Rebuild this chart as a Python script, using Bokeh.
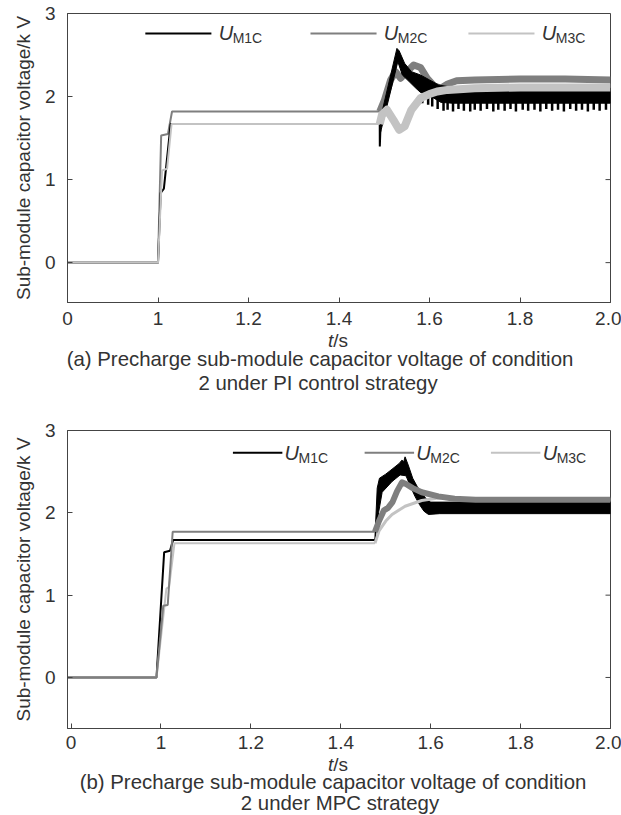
import math
from bokeh.plotting import figure
from bokeh.models import FixedTicker, Label, Range1d, Div
from bokeh.layouts import column
from bokeh.embed import file_html
from bokeh.resources import INLINE

# ---------------- data ----------------
x_ticks = [0.8, 1.0, 1.2, 1.4, 1.6, 1.8, 2.0]
x_tick_labels = ["0", "1", "1.2", "1.4", "1.6", "1.8", "2.0"]
y_ticks = [0, 1, 2, 3]
series = ["M1C", "M2C", "M3C"]

# (a) PI control
pi_m1c_t = [0.80, 1.000, 1.006, 1.013, 1.028, 1.490, 1.4902, 1.4915]
pi_m1c_u = [0.00, 0.00, 0.84, 0.89, 1.67, 1.67, 1.40, 1.60]
pi_m1c_hi_t = [1.491, 1.528, 1.533, 1.545, 1.560, 1.580, 1.600, 1.620, 1.650, 1.700, 1.750, 1.800, 1.850, 1.900, 1.950, 2.000]
pi_m1c_hi_u = [1.72, 2.58, 2.55, 2.40, 2.30, 2.26, 2.20, 2.14, 2.11, 2.10, 2.09, 2.10, 2.09, 2.10, 2.09, 2.10]
pi_m1c_lo_t = [1.491, 1.530, 1.540, 1.555, 1.570, 1.580, 1.595, 1.610, 1.625, 1.650, 2.000]
pi_m1c_lo_u = [1.55, 2.42, 2.26, 2.18, 2.10, 2.05, 2.02, 1.98, 1.93, 1.92, 1.92]
pi_m1c_spike_t = [1.584, 1.597, 1.606, 1.618, 1.631, 1.640, 1.652, 1.664, 1.676, 1.690, 1.700,
                  1.713, 1.727, 1.741, 1.752, 1.766, 1.779, 1.791, 1.806, 1.818, 1.832, 1.845,
                  1.858, 1.871, 1.884, 1.897, 1.911, 1.924, 1.937, 1.950, 1.963, 1.976, 1.990]
pi_m1c_spike_u = [1.92, 1.90, 1.88, 1.85, 1.83, 1.84, 1.82, 1.85, 1.83, 1.82, 1.84,
                  1.83, 1.85, 1.82, 1.84, 1.83, 1.85, 1.82, 1.84, 1.83, 1.84, 1.82,
                  1.85, 1.83, 1.84, 1.82, 1.85, 1.83, 1.84, 1.82, 1.84, 1.83, 1.84]
pi_m1c_spike_base = 2.00

pi_m2c_t = [0.80, 1.000, 1.007, 1.022, 1.031, 1.490]
pi_m2c_u = [0.00, 0.00, 1.53, 1.55, 1.82, 1.82]
pi_m2c_tr_t = [1.490, 1.500, 1.514, 1.525, 1.536, 1.550, 1.565, 1.580, 1.595, 1.610, 1.625, 1.640, 1.660, 1.700, 1.800, 1.900, 2.000]
pi_m2c_tr_u = [1.82, 1.95, 2.20, 2.30, 2.22, 2.30, 2.38, 2.35, 2.22, 2.13, 2.10, 2.15, 2.19, 2.20, 2.21, 2.21, 2.20]

pi_m3c_t = [0.80, 1.000, 1.009, 1.020, 1.030, 1.490]
pi_m3c_u = [0.00, 0.00, 1.11, 1.13, 1.67, 1.67]
pi_m3c_tr_t = [1.490, 1.495, 1.506, 1.520, 1.533, 1.545, 1.560, 1.580, 1.600, 1.617, 1.640, 1.700, 1.800, 1.900, 2.000]
pi_m3c_tr_u = [1.67, 1.78, 1.84, 1.72, 1.60, 1.64, 1.84, 1.98, 2.03, 2.06, 2.08, 2.10, 2.11, 2.11, 2.11]

# (b) MPC
mpc_m1c_t = [0.79, 0.990, 1.007, 1.020, 1.027, 1.476]
mpc_m1c_u = [0.00, 0.00, 1.52, 1.54, 1.67, 1.67]
mpc_m1c_hi_t = [1.476, 1.481, 1.486, 1.500, 1.514, 1.530, 1.536, 1.540, 1.543, 1.550, 1.560, 1.570, 1.580, 1.590, 1.600, 2.000]
mpc_m1c_hi_u = [1.70, 2.30, 2.42, 2.47, 2.53, 2.60, 2.64, 2.62, 2.68, 2.58, 2.42, 2.32, 2.24, 2.17, 2.13, 2.13]
mpc_m1c_lo_t = [1.476, 1.484, 1.492, 1.514, 1.532, 1.545, 1.555, 1.565, 1.575, 1.585, 1.595, 1.620, 2.000]
mpc_m1c_lo_u = [1.66, 2.00, 2.25, 2.38, 2.46, 2.45, 2.32, 2.20, 2.10, 2.02, 1.98, 1.99, 1.99]

mpc_m2c_t = [0.79, 0.990, 1.005, 1.015, 1.026, 1.476]
mpc_m2c_u = [0.00, 0.00, 0.87, 0.88, 1.77, 1.77]
mpc_m2c_tr_t = [1.476, 1.485, 1.496, 1.505, 1.515, 1.525, 1.536, 1.545, 1.560, 1.580, 1.617, 1.653, 1.700, 2.000]
mpc_m2c_tr_u = [1.77, 1.90, 2.03, 2.06, 2.13, 2.26, 2.37, 2.35, 2.30, 2.25, 2.20, 2.17, 2.16, 2.16]

mpc_m3c_t = [0.79, 0.990, 1.012, 1.018, 1.030, 1.476]
mpc_m3c_u = [0.00, 0.00, 1.08, 1.10, 1.63, 1.63]
mpc_m3c_tr_t = [1.476, 1.485, 1.500, 1.514, 1.543, 1.580, 1.617, 1.650, 2.000]
mpc_m3c_tr_u = [1.63, 1.78, 1.90, 1.98, 2.08, 2.15, 2.18, 2.17, 2.16]

captions_a = ["(a) Precharge sub-module capacitor voltage of condition", "2 under PI control strategy"]
captions_b = ["(b) Precharge sub-module capacitor voltage of condition", "2 under MPC strategy"]
y_label = "Sub-module capacitor voltage/k V"

# ---------------- style ----------------
COLORS = {"M1C": "#000000", "M2C": "#7f7f7f", "M3C": "#c3c3c3"}
FONT = "Liberation Sans"
TXT = "#333333"
AX = "#444444"


def make_panel(height, xr, yr, borders, legend_cfg, x_standoff):
    p = figure(width=621, height=height, x_range=Range1d(*xr), y_range=Range1d(*yr),
               output_backend="svg", toolbar_location=None,
               min_border_left=borders[0], min_border_right=borders[1],
               min_border_top=borders[2], min_border_bottom=borders[3])
    p.xgrid.visible = False
    p.ygrid.visible = False
    p.outline_line_color = AX
    p.outline_line_width = 1
    p.background_fill_color = "white"
    p.border_fill_color = "white"

    xa = p.xaxis[0]
    xa.ticker = FixedTicker(ticks=x_ticks)
    xa.major_label_overrides = dict(zip(x_ticks, x_tick_labels))
    ya = p.yaxis[0]
    ya.ticker = FixedTicker(ticks=y_ticks)
    ya.axis_label = y_label
    for a in (xa, ya):
        a.axis_line_color = AX
        a.major_tick_line_color = AX
        a.major_tick_in = 5
        a.major_tick_out = 0
        a.minor_tick_line_color = None
        a.major_label_text_font = FONT
        a.major_label_text_font_size = "19px"
        a.major_label_text_color = TXT
        a.axis_label_text_font = FONT
        a.axis_label_text_font_size = "19px"
        a.axis_label_text_font_style = "normal"
        a.axis_label_text_color = TXT
    xa.major_label_standoff = x_standoff
    ya.major_label_standoff = 12
    ya.axis_label_standoff = 8

    # inward ticks on the right frame edge
    p.ray(x=xr[1], y=y_ticks, length=5, length_units="screen", angle=math.pi,
          line_color=AX, line_width=1)

    # legend (custom, with italic U and subscript)
    ly, lx, llen, ugap = legend_cfg
    for name, x0 in zip(series, lx):
        p.line([x0, x0 + llen], [ly, ly], line_color=COLORS[name], line_width=2)
        p.add_layout(Label(x=x0 + llen + ugap, y=ly, text="U", text_font=FONT, text_font_size="20px",
                           text_font_style="italic", text_color=TXT, text_baseline="middle"))
        p.add_layout(Label(x=x0 + llen + ugap, y=ly, x_offset=14, y_offset=-5, text=name, text_font=FONT,
                           text_font_size="14px", text_color=TXT, text_baseline="middle"))
    return p


def caption_div(height, t_pos, c1_pos, c2_pos, caps):
    base = ("position:absolute;white-space:nowrap;text-align:center;"
            "font-family:'Liberation Sans',Arial,sans-serif;color:#333333;")
    html = (f'<div style="position:relative;width:621px;height:{height}px;">'
            f'<div style="{base}left:{t_pos[0] - 100}px;width:200px;top:{t_pos[1]}px;'
            f'font-size:19px;line-height:16px;"><i>t</i>/s</div>'
            f'<div style="{base}left:{c1_pos[0] - 300}px;width:600px;top:{c1_pos[1]}px;'
            f'font-size:20.4px;line-height:18px;">{caps[0]}</div>'
            f'<div style="{base}left:{c2_pos[0] - 300}px;width:600px;top:{c2_pos[1]}px;'
            f'font-size:20.4px;line-height:18px;">{caps[1]}</div>'
            f'</div>')
    return Div(text=html, width=621, height=height, margin=(0, 0, 0, 0))


def band(p, hi_t, hi_u, lo_t, lo_u, color):
    p.patch(hi_t + lo_t[::-1], hi_u + lo_u[::-1], fill_color=color, line_color=color, line_width=1)


# ---------------- panel (a) ----------------
pa = make_panel(333, (0.80, 2.00), (-0.48, 3.0), (67, 11, 13, 31),
                (2.76, [0.972, 1.337, 1.686], 0.146, 0.016), 9)
# drawing order: M2C, M1C, M3C
pa.line(pi_m2c_t, pi_m2c_u, line_color=COLORS["M2C"], line_width=2)
pa.line(pi_m2c_tr_t, pi_m2c_tr_u, line_color=COLORS["M2C"], line_width=7, line_join="round")
pa.line(pi_m1c_t, pi_m1c_u, line_color=COLORS["M1C"], line_width=2)
band(pa, pi_m1c_hi_t, pi_m1c_hi_u, pi_m1c_lo_t, pi_m1c_lo_u, COLORS["M1C"])
pa.segment(x0=pi_m1c_spike_t, y0=pi_m1c_spike_base, x1=pi_m1c_spike_t, y1=pi_m1c_spike_u,
           line_color=COLORS["M1C"], line_width=2.5)
pa.line(pi_m3c_t, pi_m3c_u, line_color=COLORS["M3C"], line_width=2)
pa.line(pi_m3c_tr_t, pi_m3c_tr_u, line_color=COLORS["M3C"], line_width=8, line_join="round")
da = caption_div(67, (338, 0), (320, 17), (318, 41), captions_a)

# ---------------- panel (b) ----------------
pb = make_panel(357, (0.792, 2.00), (-0.62, 3.0), (61, 9, 30, 29),
                (2.73, [1.160, 1.453, 1.734], 0.11, 0.005), 7)
# drawing order: M1C, M3C, M2C
pb.line(mpc_m1c_t, mpc_m1c_u, line_color=COLORS["M1C"], line_width=2)
band(pb, mpc_m1c_hi_t, mpc_m1c_hi_u, mpc_m1c_lo_t, mpc_m1c_lo_u, COLORS["M1C"])
pb.line(mpc_m3c_t, mpc_m3c_u, line_color=COLORS["M3C"], line_width=2)
pb.line(mpc_m3c_tr_t, mpc_m3c_tr_u, line_color=COLORS["M3C"], line_width=3, line_join="round")
pb.line(mpc_m2c_t, mpc_m2c_u, line_color=COLORS["M2C"], line_width=2)
pb.line(mpc_m2c_tr_t, mpc_m2c_tr_u, line_color=COLORS["M2C"], line_width=6, line_join="round")
db = caption_div(58, (338, 0), (333, 16), (340, 37), captions_b)

layout = column(pa, da, pb, db, spacing=0)
open("out.html", "w").write(file_html(layout, INLINE))
